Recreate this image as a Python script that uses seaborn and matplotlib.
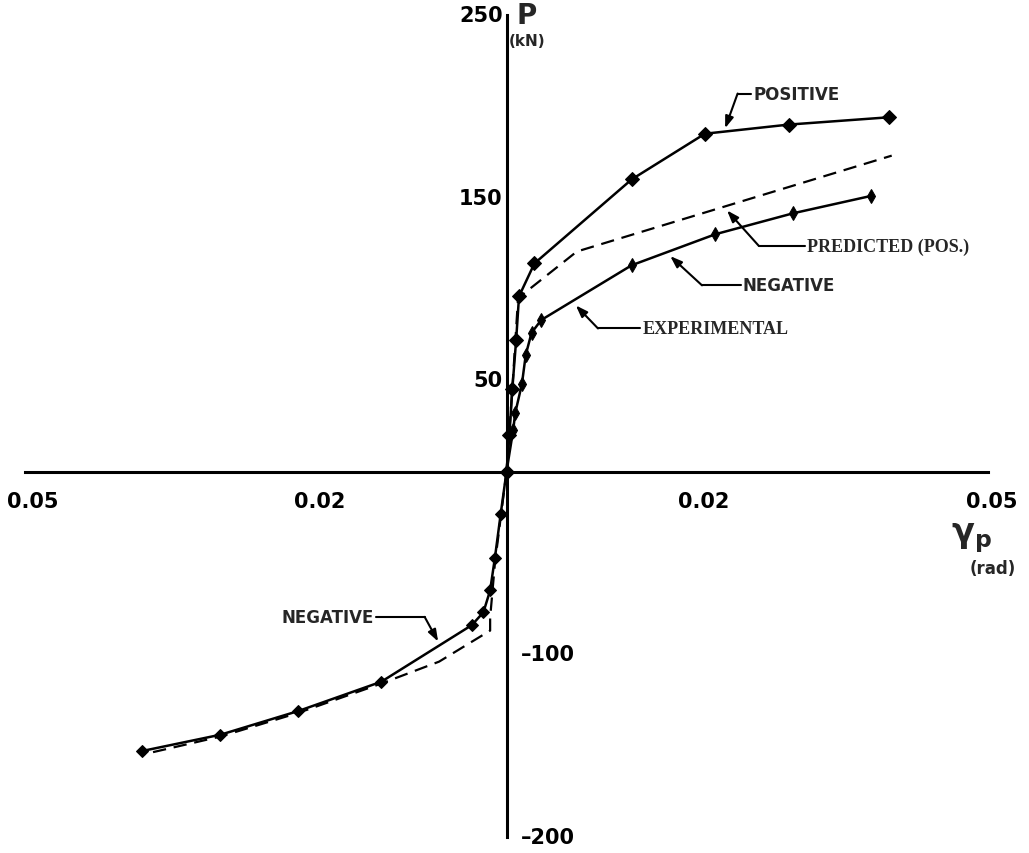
import matplotlib
matplotlib.use("Agg")
import matplotlib.pyplot as plt
import seaborn as sns
import pandas as pd

# ---------------- data ----------------
pos_x = [0.0, 0.0003, 0.0006, 0.0010, 0.0013, 0.0029, 0.0130, 0.0206, 0.0293, 0.0397]
pos_y = [0, 20, 45, 72, 96, 114, 160, 185, 190, 194]

negp_x = [0.0, 0.0007, 0.0009, 0.0016, 0.0020, 0.0026, 0.0036, 0.0130, 0.0217, 0.0298, 0.0379]
negp_y = [0, 23, 32, 48, 64, 76, 83, 113, 130, 141.5, 151]

predp_x = [0.0, 0.0006, 0.0012, 0.0073, 0.0400]
predp_y = [0, 45, 95, 120.5, 173]

negn_x = [0.0, -0.0006, -0.0012, -0.0017, -0.0024, -0.0036, -0.0130, -0.0216, -0.0297, -0.0379]
negn_y = [0, -23, -47, -65, -77, -84, -115, -131, -144, -153]

predn_x = [0.0, -0.0012, -0.0017, -0.0017, -0.0070, -0.0130, -0.0216, -0.0297, -0.0379]
predn_y = [0, -50, -80, -87, -104, -116, -132, -145, -155]

x_ticks = [-0.05, -0.04, -0.03, -0.02, -0.01, 0.01, 0.02, 0.03, 0.04, 0.05]
y_ticks = [-200, -150, -100, -50, 50, 100, 150, 200, 250]
x_tick_labels = {-0.05: "0.05", -0.02: "0.02", 0.02: "0.02", 0.05: "0.05"}
y_tick_labels_left = [250, 150, 50]
y_tick_labels_right = [-100, -200]

# annotation labels: text, arrow tip, corner, text anchor
labels = [
    ("POSITIVE",         (0.0227, 188),  (0.0240, 207),  (0.0256, 207),  "left",  "sans"),
    ("PREDICTED (POS.)", (0.0229, 143),  (0.0262, 123.6), (0.0312, 123.6), "left", "serif"),
    ("NEGATIVE",         (0.0170, 118),  (0.0203, 102),  (0.0245, 102),  "left",  "sans"),
    ("EXPERIMENTAL",     (0.0072, 91),   (0.0095, 78.4), (0.0141, 78.4), "left",  "serif"),
    ("NEGATIVE",         (-0.0071, -93), (-0.0085, -79.5), (-0.0138, -79.5), "right", "sans"),
]

# ---------------- figure ----------------
sns.set_style("white")
plt.rcParams["font.family"] = ["DejaVu Sans"]

fig = plt.figure(figsize=(10.29, 8.54), dpi=100)
ax = fig.add_axes([0.00558, 0.00804, 0.9733, 0.98393])
ax.set_xlim(-0.052, 0.052)
ax.set_ylim(-205, 255)

lw = 1.8
sns.lineplot(x=pos_x, y=pos_y, ax=ax, sort=False, estimator=None, color="black",
             lw=lw, marker="D", markersize=7, markeredgecolor="black")
sns.lineplot(x=negp_x, y=negp_y, ax=ax, sort=False, estimator=None, color="black",
             lw=lw, marker="d", markersize=7, markeredgecolor="black")
sns.lineplot(x=predp_x, y=predp_y, ax=ax, sort=False, estimator=None, color="black",
             lw=1.6, linestyle=(0, (6, 3.5)))
sns.lineplot(x=negn_x, y=negn_y, ax=ax, sort=False, estimator=None, color="black",
             lw=lw, marker="D", markersize=6, markeredgecolor="black")
sns.lineplot(x=predn_x, y=predn_y, ax=ax, sort=False, estimator=None, color="black",
             lw=1.6, linestyle=(0, (6, 3.5)))

# axes through origin
for s in ["top", "right"]:
    ax.spines[s].set_visible(False)
ax.spines["left"].set_position("zero")
ax.spines["bottom"].set_position("zero")
ax.spines["left"].set_bounds(-200, 250)
ax.spines["bottom"].set_bounds(-0.05, 0.05)
for s in ["left", "bottom"]:
    ax.spines[s].set_linewidth(2.2)
    ax.spines[s].set_color("black")
ax.set_xticks(x_ticks)
ax.set_yticks(y_ticks)
ax.set_xticklabels([])
ax.set_yticklabels([])
ax.tick_params(axis="both", direction="inout", length=10, width=2.2, color="black")
ax.set_xlabel("")
ax.set_ylabel("")

# tick labels
tfont = dict(fontsize=15, fontweight="bold", color="black")
x_label_offset = {-0.05: 0.0008, -0.02: 0.0006, 0.02: 0.0005, 0.05: 0.0004}
for xv, txt in x_tick_labels.items():
    ax.text(xv + x_label_offset[xv], -16, txt, ha="center", va="center", **tfont)
for yv in y_tick_labels_left:
    ax.text(-0.0004, yv, str(yv), ha="right", va="center", **tfont)
for yv in y_tick_labels_right:
    ax.text(0.0015, yv, "\u2013" + str(abs(yv)), ha="left", va="center", **tfont)

# axis titles
ax.text(0.0021, 250, "P", ha="center", va="center", fontsize=20, fontweight="bold")
ax.text(0.0021, 236, "(kN)", ha="center", va="center", fontsize=11, fontweight="bold")
ax.text(0.0483, -36, r"$\mathbf{\gamma_p}$", ha="center", va="center", fontsize=24)
ax.text(0.0505, -53, "(rad)", ha="center", va="center", fontsize=12, fontweight="bold")

# leader labels
for text, tip, corner, tpos, ha, fam in labels:
    xend = tpos[0] - 0.0002 if ha == "left" else tpos[0] + 0.0002
    ax.plot([corner[0], xend], [corner[1], corner[1]], color="black", lw=1.5)
    ax.annotate("", xy=tip, xytext=corner,
                arrowprops=dict(arrowstyle="-|>,head_length=0.7,head_width=0.25",
                                color="black", lw=1.5, shrinkA=0, shrinkB=0))
    if fam == "serif":
        ax.text(tpos[0], tpos[1], text, ha=ha, va="center", fontsize=13,
                fontweight="bold", family="Liberation Serif")
    else:
        ax.text(tpos[0], tpos[1], text, ha=ha, va="center", fontsize=12,
                fontweight="bold")

fig.savefig("out.png", dpi=100)
